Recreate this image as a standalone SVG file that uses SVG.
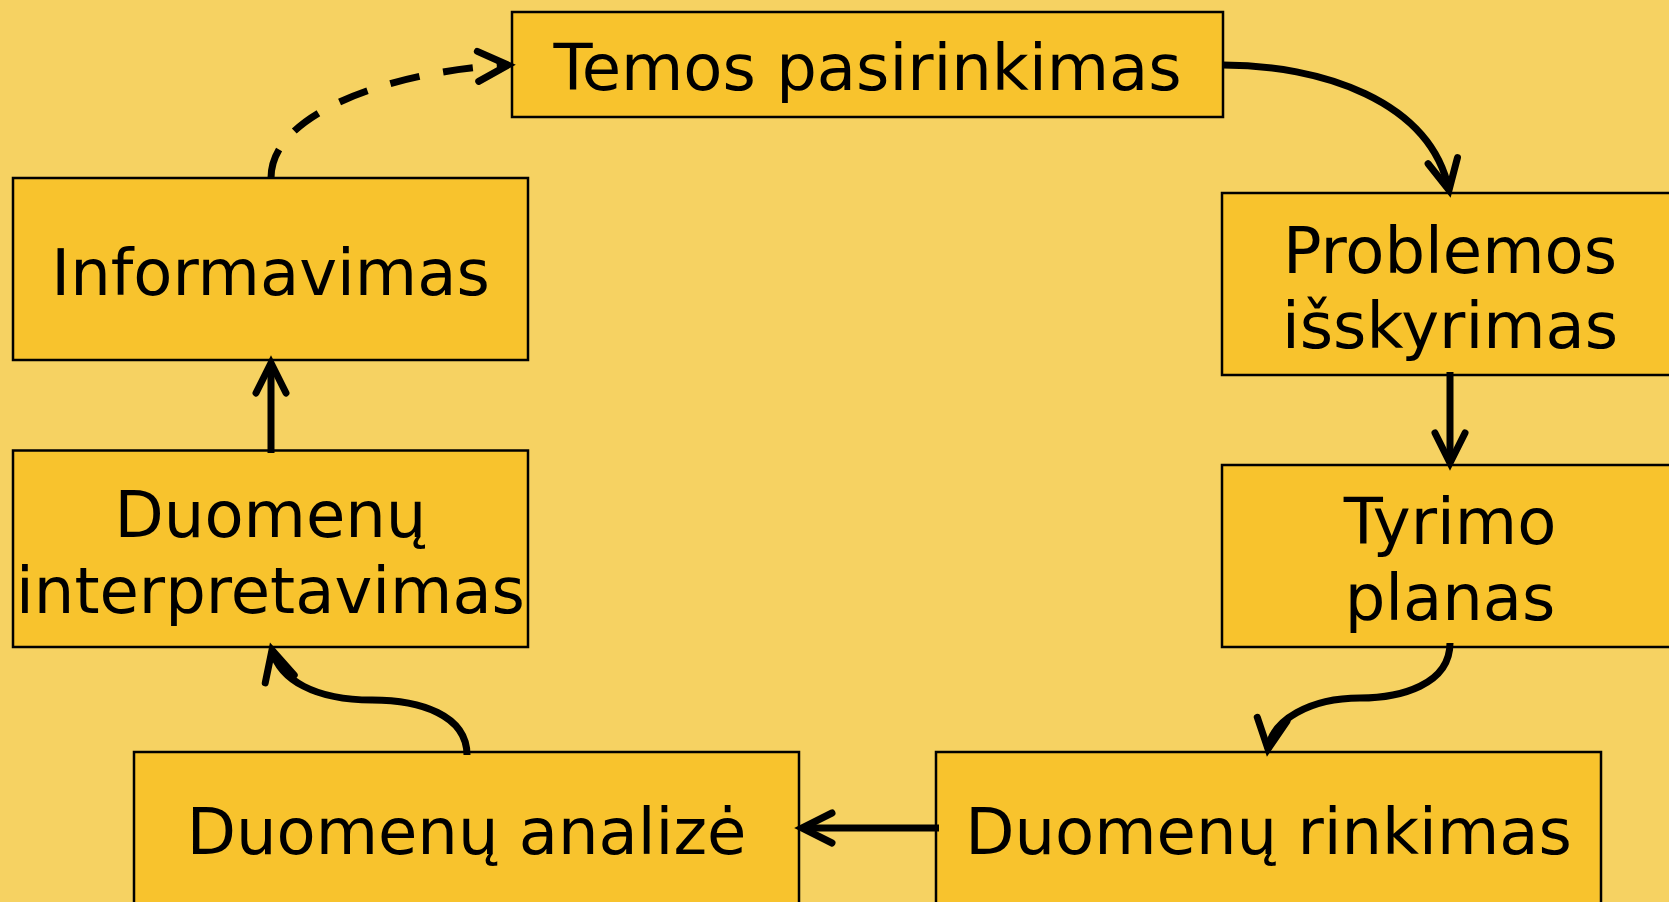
<svg xmlns="http://www.w3.org/2000/svg" width="1669" height="902" viewBox="0 0 1669 902">
<style>
.bg{fill:#F6D262}
.box{fill:#F8C32D;stroke:#000;stroke-width:2.5}
.lbl{font-family:"DejaVu Sans","Liberation Sans",sans-serif;font-size:64px;fill:#000;text-anchor:middle}
.con{fill:none;stroke:#000;stroke-width:7}
.dash{stroke-dasharray:30 24}
</style>
<defs>
<marker id="arr" markerUnits="userSpaceOnUse" markerWidth="60" markerHeight="60" refX="0" refY="0" orient="auto" overflow="visible" viewBox="-40 -30 50 60">
<path d="M-30,-15 L0,0 L-30,15" fill="none" stroke="#000" stroke-width="7" stroke-linecap="round" stroke-linejoin="miter"/>
</marker>
</defs>
<rect class="bg" x="0" y="0" width="1669" height="902"/>
<g id="n-temos"><rect class="box" x="512" y="12" width="711" height="105"/><text class="lbl" x="867.5" y="90">Temos pasirinkimas</text></g>
<g id="n-problemos"><rect class="box" x="1222" y="193" width="460" height="182"/><text class="lbl" x="1450" y="273">Problemos</text><text class="lbl" x="1450" y="348">išskyrimas</text></g>
<g id="n-tyrimo"><rect class="box" x="1222" y="465" width="460" height="182"/><text class="lbl" x="1450" y="544">Tyrimo</text><text class="lbl" x="1450" y="620">planas</text></g>
<g id="n-rinkimas"><rect class="box" x="936" y="752" width="665" height="170"/><text class="lbl" x="1268.5" y="854">Duomenų rinkimas</text></g>
<g id="n-analize"><rect class="box" x="134" y="752" width="665" height="170"/><text class="lbl" x="466.5" y="854">Duomenų analizė</text></g>
<g id="n-interp"><rect class="box" x="13" y="450.5" width="515" height="196.5"/><text class="lbl" x="270.5" y="537">Duomenų</text><text class="lbl" x="270.5" y="613">interpretavimas</text></g>
<g id="n-info"><rect class="box" x="13" y="178" width="515" height="182"/><text class="lbl" x="270.5" y="295">Informavimas</text></g>
<g id="connectors">
<path class="con" d="M1223,65 C1320,65 1430,100 1449,190" marker-end="url(#arr)"/>
<path class="con" d="M1450,372 L1450,463" marker-end="url(#arr)"/>
<path class="con" d="M1450,643 C1450,685 1400,698 1360,698 C1310,698 1272,720 1268,749" marker-end="url(#arr)"/>
<path class="con" d="M939,828 L802,828" marker-end="url(#arr)"/>
<path class="con" d="M467,755 C467,715 420,700 372,700 C315,700 280,680 272,650" marker-end="url(#arr)"/>
<path class="con" d="M271,453 L271,363" marker-end="url(#arr)"/>
<path class="con dash" d="M271,178 C271,110 400,70 508,65" marker-end="url(#arr)"/>
</g>
</svg>
